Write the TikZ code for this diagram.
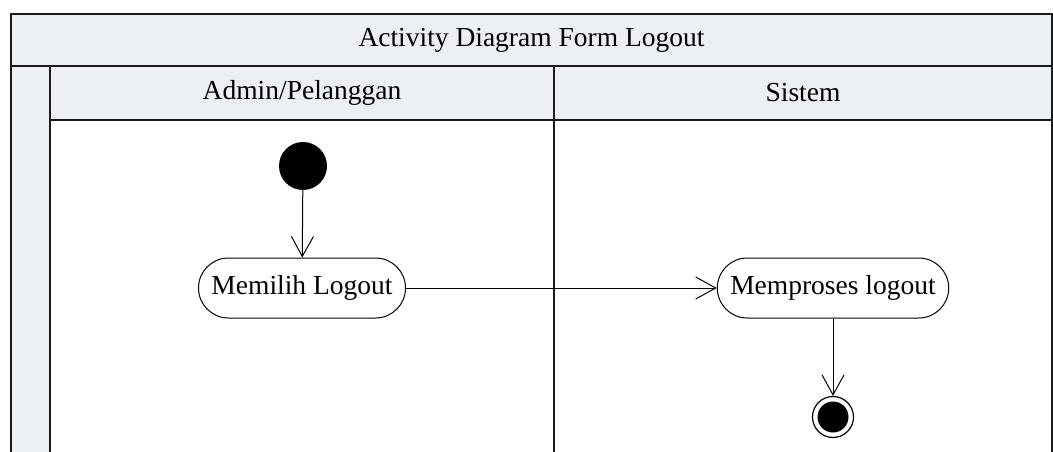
\documentclass[tikz,border=0pt]{standalone}
\usepackage{fontspec}
\setmainfont{Liberation Serif}
\usetikzlibrary{arrows.meta}
\definecolor{bandfill}{HTML}{ECEFF4}
\definecolor{framecol}{HTML}{1A1A1A}
\tikzset{
  frameline/.style={draw=framecol, line width=1.6pt},
  laneline/.style={draw=framecol, line width=1.3pt},
  action/.style={draw=black, line width=1pt, rounded corners=30pt, minimum height=60pt, inner xsep=13pt, fill=white, font=\fontsize{27.5}{30}\selectfont},
  startnode/.style={circle, fill=black, minimum size=48pt, inner sep=0pt},
  endnode/.style={circle, draw=black, line width=1.2pt, fill=white, minimum size=41pt, inner sep=0pt, path picture={\fill[black] (path picture bounding box.center) circle (15.5pt);}},
  flow/.style={draw=black, line width=1pt, -{Straight Barb[length=20pt,width=22pt,line width=1pt]}},
  headtext/.style={font=\fontsize{27.5}{30}\selectfont}
}
\begin{document}
\begin{tikzpicture}[x=1pt,y=-1pt]
\useasboundingbox (0,0) rectangle (1053,452);
% bands
\fill[white] (0,0) rectangle (1053,452);
\fill[bandfill] (11,14) rectangle (1052,66);
\fill[bandfill] (11,66) rectangle (50,452);
\fill[bandfill] (50,66) rectangle (1052,120);
% frame lines
\draw[frameline] (11,452) -- (11,14) -- (1052,14) -- (1052,452);
\draw[frameline] (11,66) -- (1052,66);
\draw[laneline] (50,66) -- (50,452);
\draw[laneline] (50,120) -- (1052,120);
\draw[laneline] (554,66) -- (554,452);
% titles
\node[headtext] (title) at (531.5,40) {Activity Diagram Form Logout};
\node[headtext] (lane1) at (302,93) {Admin/Pelanggan};
\node[headtext] (lane2) at (803,93) {Sistem};
% nodes
\node[startnode] (start) at (303,166) {};
\node[action] (a1) at (302,288) {Memilih Logout};
\node[action] (a2) at (833,288) {Memproses logout};
\node[endnode] (end) at (833,417) {};
% connectors
\draw[flow] (start) -- (a1);
\draw[flow] (a1) -- (a2);
\draw[flow] (a2) -- (end);
\end{tikzpicture}
\end{document}
